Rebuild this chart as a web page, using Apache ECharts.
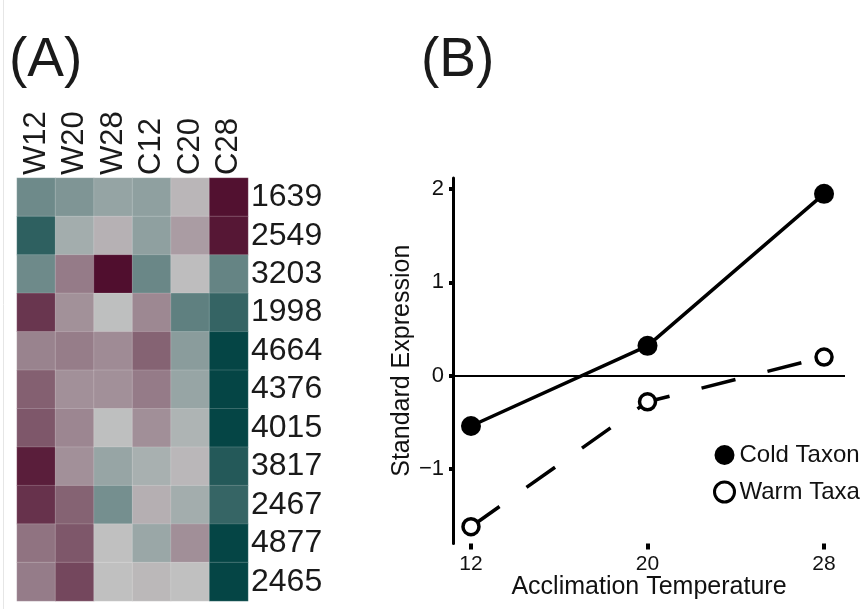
<!DOCTYPE html>
<html><head><meta charset="utf-8">
<script src="https://cdn.jsdelivr.net/npm/echarts@6/dist/echarts.min.js"></script>
<style>html,body{margin:0;padding:0;background:#fff}#c{width:864px;height:609px}</style>
</head><body><div id="c"></div>
<script>
const FONT = '"Liberation Sans", Arial, Helvetica, sans-serif';

// Panel A: heatmap
const colLabels = ['W12', 'W20', 'W28', 'C12', 'C20', 'C28'];
const geneLabels = ['1639', '2549', '3203', '1998', '4664', '4376', '4015', '3817', '2467', '4877', '2465'];
const W12 = [-0.88, -1.56, -0.88, 1.55, 0.69, 1.08, 1.18, 1.82, 1.59, 0.86, 0.76];
const W20 = [-0.70, -0.31, 0.77, 0.53, 0.75, 0.54, 0.65, 0.54, 1.05, 1.18, 1.36];
const W28 = [-0.46, 0.17, 2.00, -0.02, 0.59, 0.54, -0.02, -0.44, -0.80, 0.00, 0.00];
const C12 = [-0.52, -0.52, -0.92, 0.63, 1.05, 0.77, 0.55, -0.26, 0.19, -0.41, 0.09];
const C20 = [0.11, 0.40, 0.03, -1.04, -0.58, -0.44, -0.19, 0.10, -0.31, 0.55, 0.00];
const C28 = [1.97, 1.90, -0.97, -1.49, -2.00, -2.00, -2.00, -1.67, -1.48, -2.00, -2.00];

// Panel B: line chart
const temps = [12, 20, 28];
const coldTaxon = [-0.54, 0.32, 1.95];
const warmTaxa = [-1.62, -0.28, 0.20];
const xTicks = [12, 20, 28];
const yTicks = [-1, 0, 1, 2];

const columns = [W12, W20, W28, C12, C20, C28];
const heat = [];
columns.forEach((col, ci) => col.forEach((v, ri) => heat.push([ci, ri, v])));
const coldData = temps.map((t, i) => [t, coldTaxon[i]]);
const warmData = temps.map((t, i) => [t, warmTaxa[i]]);

const chart = echarts.init(document.getElementById('c'), null, {renderer: 'canvas'});
chart.setOption({
  animation: false,
  backgroundColor: '#fff',
  textStyle: {fontFamily: FONT},
  graphic: [
    {type: 'line', shape: {x1: 3.5, y1: 0, x2: 3.5, y2: 609}, style: {stroke: '#e6e6e6', lineWidth: 1}},
    {type: 'text', x: 9, y: 61, style: {text: '(A)', font: '55px ' + FONT, fill: '#1a1a1a', textVerticalAlign: 'middle'}},
    {type: 'text', x: 421, y: 61, style: {text: '(B)', font: '55px ' + FONT, fill: '#1a1a1a', textVerticalAlign: 'middle'}}
  ],
  grid: [
    {left: 17, top: 178, width: 231, height: 423},
    {left: 453, top: 178, width: 392, height: 365.5}
  ],
  visualMap: {
    type: 'continuous', show: false, min: -2, max: 2, dimension: 2, seriesIndex: 0,
    inRange: {color: ['#054545', '#c0c0c0', '#500e2e']}
  },
  legend: {
    orient: 'vertical', left: 708, top: 438, itemWidth: 20, itemHeight: 20, itemGap: 13,
    selectedMode: false, icon: 'circle',
    textStyle: {fontSize: 24, color: '#111', fontFamily: FONT},
    data: [
      {name: 'Cold Taxon', itemStyle: {color: '#000', borderWidth: 0}},
      {name: 'Warm Taxa', itemStyle: {color: '#fff', borderColor: '#000', borderWidth: 3}}
    ]
  },
  xAxis: [
    {
      gridIndex: 0, type: 'category', position: 'top', data: colLabels,
      axisLine: {show: false}, axisTick: {show: false}, splitLine: {show: false},
      axisLabel: {rotate: -90, interval: 0, fontSize: 31, margin: 3, color: '#1a1a1a', fontFamily: FONT}
    },
    {
      gridIndex: 1, type: 'value', position: 'bottom', min: 11.185, max: 28.95,
      axisLine: {show: false, onZero: false},
      axisTick: {show: true, customValues: xTicks, length: 6, lineStyle: {color: '#000', width: 4}},
      axisLabel: {customValues: xTicks, fontSize: 21, margin: 10, color: '#111', fontFamily: FONT},
      splitLine: {show: false},
      name: 'Acclimation Temperature', nameLocation: 'middle', nameGap: 31, nameMoveOverlap: false,
      nameTextStyle: {fontSize: 25, color: '#111', fontFamily: FONT}
    }
  ],
  yAxis: [
    {
      gridIndex: 0, type: 'category', position: 'right', inverse: true, data: geneLabels,
      axisLine: {show: false}, axisTick: {show: false}, splitLine: {show: false},
      axisLabel: {interval: 0, fontSize: 32, margin: 3, color: '#1a1a1a', fontFamily: FONT}
    },
    {
      gridIndex: 1, type: 'value', min: -1.80, max: 2.12,
      axisLine: {show: true, onZero: false, lineStyle: {color: '#000', width: 3}},
      axisTick: {show: true, customValues: yTicks, length: 4, lineStyle: {color: '#000', width: 4}},
      axisLabel: {customValues: yTicks, fontSize: 22, margin: 9, color: '#111', fontFamily: FONT,
        formatter: v => String(v).replace('-', '\u2212')},
      splitLine: {show: false},
      name: 'Standard Expression', nameLocation: 'middle', nameGap: 36,
      nameTextStyle: {fontSize: 25, color: '#111', fontFamily: FONT}
    }
  ],
  series: [
    {
      type: 'heatmap', xAxisIndex: 0, yAxisIndex: 0, data: heat,
      itemStyle: {borderColor: 'rgba(255,255,255,0.3)', borderWidth: 0.6},
      emphasis: {disabled: true}
    },
    {
      name: 'Cold Taxon', type: 'line', xAxisIndex: 1, yAxisIndex: 1, data: coldData,
      symbol: 'circle', symbolSize: 20, z: 3,
      itemStyle: {color: '#000'},
      lineStyle: {color: '#000', width: 3.5, type: 'solid'},
      markLine: {
        silent: true, symbol: 'none', label: {show: false},
        lineStyle: {color: '#000', width: 2, type: 'solid'},
        data: [{yAxis: 0}]
      }
    },
    {
      name: 'Warm Taxa', type: 'line', xAxisIndex: 1, yAxisIndex: 1, data: warmData,
      symbol: 'circle', symbolSize: 16, z: 3,
      itemStyle: {color: '#fff', borderColor: '#000', borderWidth: 3.5},
      lineStyle: {color: '#000', width: 3.5, type: [35, 33], cap: 'butt'}
    }
  ]
});
</script>
</body></html>
